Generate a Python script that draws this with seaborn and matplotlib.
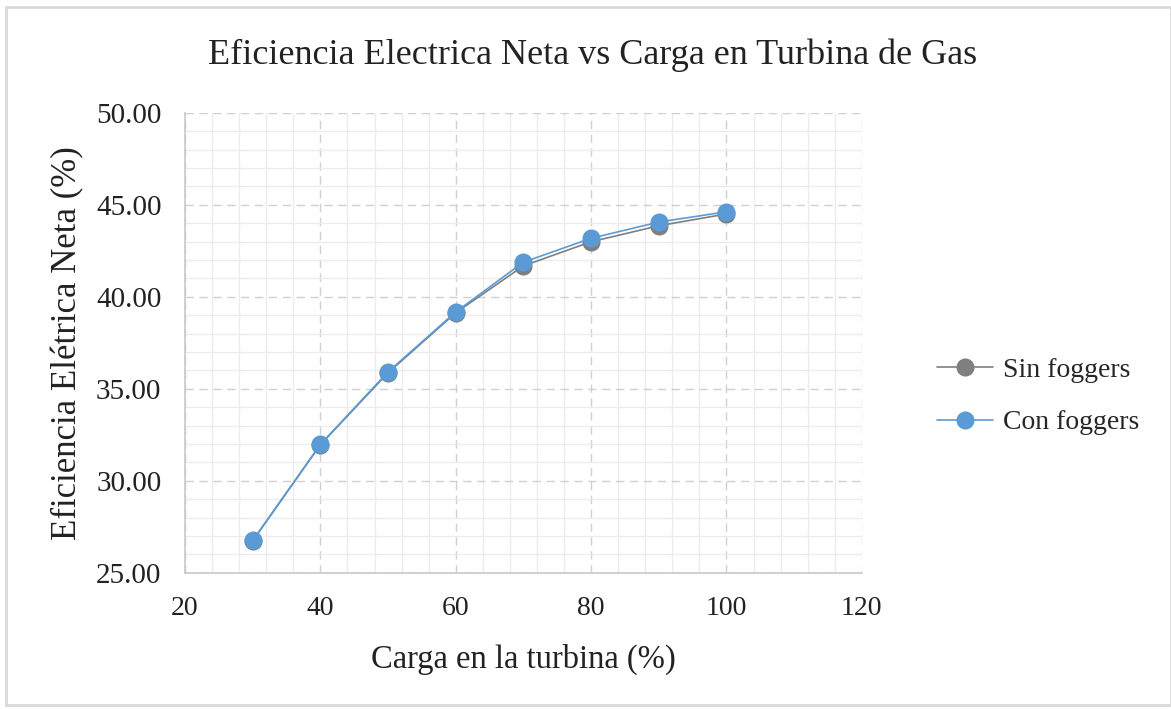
import matplotlib
matplotlib.use("Agg")
import matplotlib.pyplot as plt
import seaborn as sns
import pandas as pd
from matplotlib.ticker import MultipleLocator, FormatStrFormatter
from matplotlib.patches import Rectangle

carga = [30, 40, 50, 60, 70, 80, 90, 100]
sin_foggers = [26.74, 31.96, 35.87, 39.13, 41.68, 42.99, 43.86, 44.50]
con_foggers = [26.76, 31.98, 35.92, 39.18, 41.88, 43.18, 44.06, 44.62]
series_names = ["Sin foggers", "Con foggers"]
colors = ["#7f7f7f", "#5b9bd5"]

df = pd.concat([
    pd.DataFrame({"Carga": carga, "Eficiencia": sin_foggers, "Serie": series_names[0]}),
    pd.DataFrame({"Carga": carga, "Eficiencia": con_foggers, "Serie": series_names[1]}),
])

sns.set_theme(style="white")
plt.rcParams["font.family"] = ["Liberation Serif", "DejaVu Serif"]

fig = plt.figure(figsize=(11.71, 7.09), dpi=100)
ax = fig.add_axes([0.158, 0.192, 0.578, 0.649])

sns.lineplot(data=df, x="Carga", y="Eficiencia", hue="Serie", palette=colors,
             marker="o", markersize=13, markeredgewidth=0, linewidth=1.2, ax=ax)

ax.set_xlim(20, 120)
ax.set_ylim(25, 50)
ax.xaxis.set_major_locator(MultipleLocator(20))
ax.xaxis.set_minor_locator(MultipleLocator(4))
ax.yaxis.set_major_locator(MultipleLocator(5))
ax.yaxis.set_minor_locator(MultipleLocator(1))
ax.yaxis.set_major_formatter(FormatStrFormatter("%.2f"))

ax.grid(which="minor", color="#ececec", linewidth=1.0, linestyle="-")
ax.grid(which="major", color="#d0d0d0", linewidth=1.0, linestyle=(0, (6, 4)))
ax.set_axisbelow(True)

for s in ["top", "right"]:
    ax.spines[s].set_visible(False)
for s in ["left", "bottom"]:
    ax.spines[s].set_color("#c8c8c8")
    ax.spines[s].set_linewidth(1.2)

ax.tick_params(axis="both", which="both", length=0, colors="#222222")
ax.tick_params(axis="x", pad=17, labelsize=20)
ax.tick_params(axis="y", pad=17, labelsize=21)

ax.set_xlabel("Carga en la turbina (%)", fontsize=23.5, color="#222222", labelpad=16)
ax.set_ylabel("Eficiencia Elétrica Neta (%)", fontsize=25, color="#222222", labelpad=8)
fig.suptitle("Eficiencia Electrica Neta vs Carga en Turbina de Gas", fontsize=26,
             x=0.506, y=0.946, color="#222222")

leg = ax.legend(loc="center left", bbox_to_anchor=(1.111, 0.384), frameon=False,
                fontsize=20, handlelength=2.0, labelspacing=0.98, handletextpad=0.38,
                borderpad=0, borderaxespad=0)

fig.patches.append(Rectangle((0.005, 0.005), 0.995, 0.985, transform=fig.transFigure,
                             fill=False, edgecolor="#d9d9d9", linewidth=2))

fig.savefig("out.png", dpi=100)
